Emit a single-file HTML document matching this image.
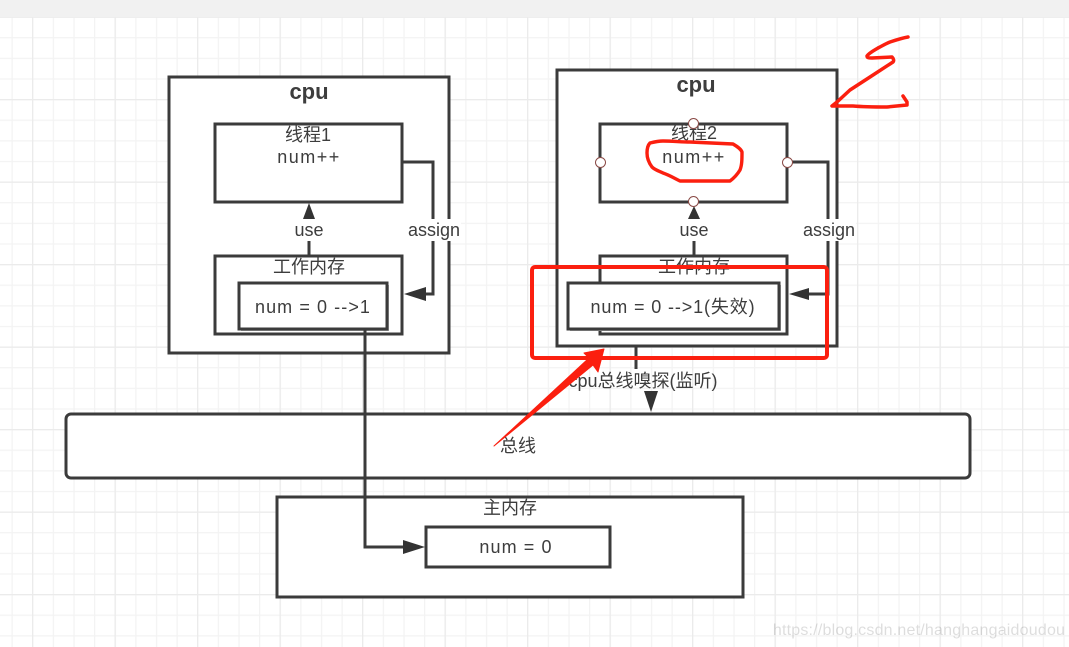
<!DOCTYPE html>
<html>
<head>
<meta charset="utf-8">
<style>
html,body{margin:0;padding:0;background:#fff;width:1069px;height:647px;overflow:hidden}
svg{display:block;position:absolute;left:0;top:0}
text{font-family:"Liberation Sans","Noto Sans CJK SC",sans-serif;fill:#3d3d3d;font-size:18px;text-anchor:middle}
</style>
</head>
<body>
<svg width="1069" height="647" viewBox="0 0 1069 647">
<defs>
<pattern id="minor" x="11.5" y="16.5" width="20.625" height="20.625" patternUnits="userSpaceOnUse">
<path d="M.5 0V20.625M0 .5H20.625" stroke="#f3f3f3" stroke-width="1.5" fill="none"/>
</pattern>
<pattern id="major" x="32" y="16.5" width="82.5" height="82.5" patternUnits="userSpaceOnUse">
<path d="M.5 0V82.5M0 .5H82.5" stroke="#ebebeb" stroke-width="1.5" fill="none"/>
</pattern>
</defs>
<rect width="1069" height="647" fill="#fff"/>
<rect width="1069" height="647" fill="url(#minor)"/>
<rect width="1069" height="647" fill="url(#major)"/>
<rect width="1069" height="17" fill="#f1f1f1"/>

<g fill="#fff" stroke="#3b3b3b" stroke-width="3">
<rect x="169" y="77" width="280" height="276"/>
<rect x="215" y="124" width="187" height="78"/>
<rect x="215" y="256" width="187" height="78"/>
<rect x="557" y="70" width="280" height="276"/>
<rect x="600" y="124" width="187" height="78"/>
<rect x="600" y="256" width="187" height="78"/>
<rect x="66" y="414" width="904" height="64" rx="5"/>
<rect x="277" y="497" width="466" height="100"/>
</g>
<rect x="241" y="285" width="148" height="46" fill="#aaa"/>
<rect x="570" y="285" width="211" height="46" fill="#aaa"/>
<g fill="#fff" stroke="#3b3b3b" stroke-width="3">
<rect x="239" y="283" width="148" height="46"/>
<rect x="568" y="283" width="211" height="46"/>
<rect x="426" y="527" width="184" height="40"/>
</g>

<g fill="none" stroke="#3b3b3b" stroke-width="3">
<path d="M309 256V216"/>
<path d="M402 162H433V294H420"/>
<path d="M365 330V547H408"/>
<path d="M694 256V216"/>
<path d="M787 162H828V294H805"/>
<path d="M636 347V369"/>
</g>
<g fill="#333">
<path d="M309 203L315 219H303Z"/>
<path d="M404 294L426 287V301Z"/>
<path d="M425 547L403 540V554Z"/>
<path d="M694 206L700 219H688Z"/>
<path d="M789 294L809 288V300Z"/>
<path d="M651 412L644 391H658Z"/>
</g>

<rect x="294" y="219" width="31" height="22" fill="#fff"/>
<rect x="407" y="219" width="54" height="22" fill="#fff"/>
<rect x="679" y="219" width="31" height="22" fill="#fff"/>
<rect x="802" y="219" width="54" height="22" fill="#fff"/>

<text x="309" y="99" style="font-size:22px;font-weight:bold">cpu</text>
<text x="696" y="92" style="font-size:22px;font-weight:bold">cpu</text>
<text x="308" y="141">线程1</text>
<text x="309" y="163" style="letter-spacing:1.5px">num++</text>
<text x="309" y="236">use</text>
<text x="434" y="236">assign</text>
<text x="309" y="273">工作内存</text>
<text x="313" y="313" style="letter-spacing:1.08px">num = 0 --&gt;1</text>
<text x="694" y="139">线程2</text>
<text x="694" y="163" style="letter-spacing:1.5px">num++</text>
<text x="694" y="236">use</text>
<text x="829" y="236">assign</text>
<text x="694" y="273">工作内存</text>
<text x="673" y="313" style="letter-spacing:.87px">num = 0 --&gt;1(失效)</text>
<text x="643" y="387">cpu总线嗅探(监听)</text>
<text x="518" y="452">总线</text>
<text x="510" y="514">主内存</text>
<text x="516" y="553" style="letter-spacing:1.1px">num = 0</text>

<g fill="#fff" stroke="#8a4a46" stroke-width="1">
<circle cx="693.500" cy="123.500" r="5"/>
<circle cx="600.500" cy="162.500" r="5"/>
<circle cx="787.500" cy="162.500" r="5"/>
<circle cx="693.500" cy="201.500" r="5"/>
</g>

<g fill="none" stroke="#fb1f0f" stroke-linecap="round" stroke-linejoin="round">
<rect x="532" y="267" width="295" height="91" rx="3" stroke-width="4"/>
<path stroke-width="3.400" d="M663 141C672 141 682 142 690 142L733 144C738 147 741 149 742 152C742 159 742 165 740 170C737 175 734 178 730 181L680 181C674 178 669 175 663 173C659 171 655 170 652 167C649 163 647 158 647 153C647 149 648 145 650 143C654 142 658 141 663 141Z"/>
<path stroke-width="3.500" d="M908 37C902 38 896 40 890 42C885 44 882 46 878 48C873 51 869 53 867 56C867 58 869 58 872 58L892 57C894 59 894 61 893 62L870 77L850 90L837 102L832 106L853 106C865 107 880 107 887 107L907 105L907 102L903 96"/>
</g>
<path d="M494 446L589 358L584 353L604 349L598 372L593 365Z" fill="#fb1f0f" stroke="#fb1f0f" stroke-width="1" stroke-linejoin="round"/>

<text x="919" y="635" style="font-size:16px;fill:#000;opacity:.13;letter-spacing:.2px">https://blog.csdn.net/hanghangaidoudou</text>
</svg>
</body>
</html>
